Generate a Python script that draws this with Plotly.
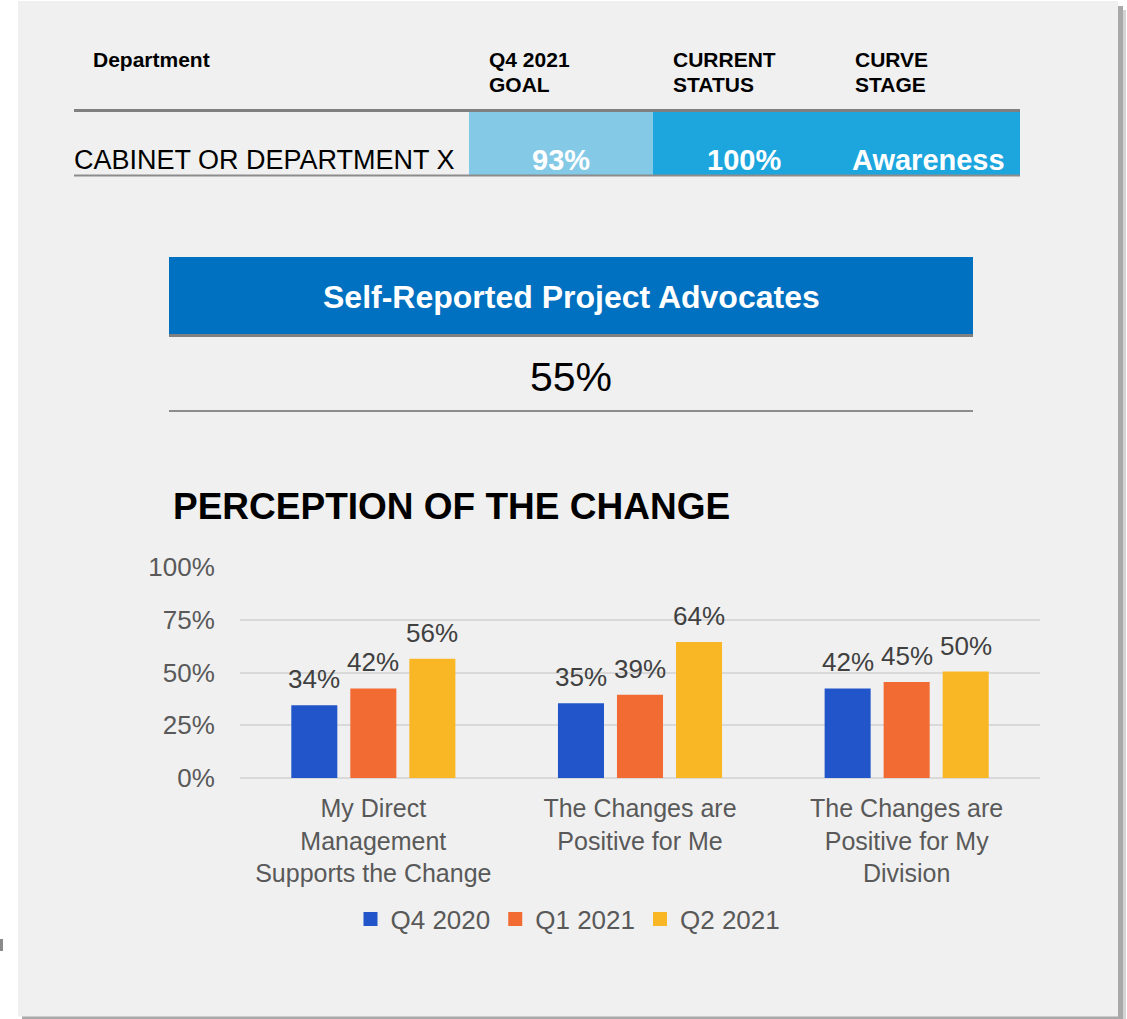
import plotly.graph_objects as go

# ---- data ----
categories = [
    "My Direct<br>Management<br>Supports the Change",
    "The Changes are<br>Positive for Me",
    "The Changes are<br>Positive for My<br>Division",
]
series_names = ["Q4 2020", "Q1 2021", "Q2 2021"]
q4_2020 = [0.34, 0.35, 0.42]
q1_2021 = [0.42, 0.39, 0.45]
q2_2021 = [0.56, 0.64, 0.50]
series_colors = ["#2155C9", "#F26B32", "#F9B725"]

y_ticks = [0, 0.25, 0.5, 0.75, 1.0]

table_headers = [["Department"], ["Q4 2021", "GOAL"], ["CURRENT", "STATUS"], ["CURVE", "STAGE"]]
table_row = ["CABINET OR DEPARTMENT X", "93%", "100%", "Awareness"]
advocates_label = "Self-Reported Project Advocates"
advocates_value = "55%"
chart_title = "PERCEPTION OF THE CHANGE"

W, H = 1127, 1019
FONT = "Liberation Sans, Arial, sans-serif"


def px(x):
    return x / W


def py(y):
    return 1 - y / H


fig = go.Figure()
for name, vals, col in zip(series_names, [q4_2020, q1_2021, q2_2021], series_colors):
    fig.add_trace(go.Bar(
        x=categories, y=vals, name=name,
        marker=dict(color=col, line=dict(width=2, color=col)),
    ))

shapes = []
# panel with drop shadow
shapes.append(dict(type="rect", xref="paper", yref="paper", layer="below",
                   x0=px(1118), x1=px(1123), y0=py(1019), y1=py(6),
                   fillcolor="#A9A9A9", line=dict(width=0)))
shapes.append(dict(type="rect", xref="paper", yref="paper", layer="below",
                   x0=px(1123), x1=px(1126), y0=py(1019), y1=py(10),
                   fillcolor="#D4D4D4", line=dict(width=0)))
shapes.append(dict(type="rect", xref="paper", yref="paper", layer="below",
                   x0=px(22), x1=px(1123), y0=py(1019), y1=py(1016),
                   fillcolor="#A9A9A9", line=dict(width=0)))
shapes.append(dict(type="rect", xref="paper", yref="paper", layer="below",
                   x0=px(18), x1=px(1118), y0=py(1016.5), y1=py(1),
                   fillcolor="#F0F0F0", line=dict(width=0)))
shapes.append(dict(type="rect", xref="paper", yref="paper", layer="below",
                   x0=px(0), x1=px(3), y0=py(951), y1=py(939),
                   fillcolor="#8A8A8A", line=dict(width=0)))

# status table cells
shapes.append(dict(type="rect", xref="paper", yref="paper", layer="below",
                   x0=px(469), x1=px(653), y0=py(175), y1=py(111),
                   fillcolor="#84C9E6", line=dict(width=0)))
shapes.append(dict(type="rect", xref="paper", yref="paper", layer="below",
                   x0=px(653), x1=px(1020), y0=py(175), y1=py(111),
                   fillcolor="#1DA6DE", line=dict(width=0)))
# table rules
shapes.append(dict(type="line", xref="paper", yref="paper",
                   x0=px(74), x1=px(1020), y0=py(110.5), y1=py(110.5),
                   line=dict(color="#808080", width=3)))
shapes.append(dict(type="line", xref="paper", yref="paper",
                   x0=px(74), x1=px(1020), y0=py(175.5), y1=py(175.5),
                   line=dict(color="#8C8C8C", width=2)))

# advocates banner
shapes.append(dict(type="rect", xref="paper", yref="paper", layer="below",
                   x0=px(169), x1=px(973), y0=py(334), y1=py(257),
                   fillcolor="#0070C0", line=dict(width=0)))
shapes.append(dict(type="line", xref="paper", yref="paper",
                   x0=px(169), x1=px(973), y0=py(335.5), y1=py(335.5),
                   line=dict(color="#808080", width=3)))
shapes.append(dict(type="line", xref="paper", yref="paper",
                   x0=px(169), x1=px(973), y0=py(411), y1=py(411),
                   line=dict(color="#8C8C8C", width=2)))

annotations = []
# table header, one annotation per text line
header_x = [91, 487, 671, 853]
header_line_y = [59, 84]
for lines, x in zip(table_headers, header_x):
    for txt, y in zip(lines, header_line_y):
        annotations.append(dict(text="<b>%s</b>" % txt, xref="paper", yref="paper",
                                x=px(x), y=py(y), xanchor="left", yanchor="middle",
                                align="left", showarrow=False,
                                font=dict(family=FONT, size=21, color="#000000")))
# table row
annotations.append(dict(text=table_row[0], xref="paper", yref="paper",
                        x=px(72), y=py(160), xanchor="left", yanchor="middle",
                        showarrow=False,
                        font=dict(family=FONT, size=27, color="#000000")))
for txt, x in zip(table_row[1:], [561, 744, 928]):
    annotations.append(dict(text="<b>%s</b>" % txt, xref="paper", yref="paper",
                            x=px(x), y=py(160), xanchor="center", yanchor="middle",
                            showarrow=False,
                            font=dict(family=FONT, size=29, color="#FFFFFF")))

annotations.append(dict(text="<b>%s</b>" % advocates_label, xref="paper", yref="paper",
                        x=px(571), y=py(297), xanchor="center", yanchor="middle",
                        showarrow=False,
                        font=dict(family=FONT, size=32, color="#FFFFFF")))
annotations.append(dict(text=advocates_value, xref="paper", yref="paper",
                        x=px(571), y=py(377), xanchor="center", yanchor="middle",
                        showarrow=False,
                        font=dict(family=FONT, size=41, color="#000000")))

annotations.append(dict(text="<b>%s</b>" % chart_title, xref="paper", yref="paper",
                        x=px(171), y=py(507), xanchor="left", yanchor="middle",
                        showarrow=False,
                        font=dict(family=FONT, size=37, color="#000000")))

# value labels above bars
for i, vals in enumerate([q4_2020, q1_2021, q2_2021]):
    for j, v in enumerate(vals):
        annotations.append(dict(
            text="%d%%" % round(v * 100), x=j, y=v, xref="x", yref="y",
            xshift=(i - 1) * 59, yshift=10,
            xanchor="center", yanchor="bottom", showarrow=False,
            font=dict(family=FONT, size=26, color="#404040")))

fig.update_layout(
    width=W, height=H,
    margin=dict(l=0, r=0, t=0, b=0, autoexpand=False),
    autosize=False,
    paper_bgcolor="#FFFFFF",
    plot_bgcolor="rgba(0,0,0,0)",
    barmode="group",
    bargap=0.336,
    bargroupgap=0.254,
    font=dict(family=FONT, size=24, color="#595959"),
    shapes=shapes,
    annotations=annotations,
    showlegend=True,
    legend=dict(orientation="h", x=px(568), y=py(919), xanchor="center",
                yanchor="middle", bgcolor="rgba(0,0,0,0)", itemwidth=30,
                font=dict(family=FONT, size=26, color="#595959"),
                itemclick=False, itemdoubleclick=False),
    xaxis=dict(domain=[px(240), px(1040)], showgrid=False, showline=False,
               zeroline=False, ticks="outside", ticklen=8, automargin=False,
               tickcolor="rgba(0,0,0,0)", tickangle=0,
               tickfont=dict(family=FONT, size=25, color="#595959"),
               fixedrange=True),
    yaxis=dict(domain=[py(778), py(567)], range=[0, 1], tickvals=y_ticks,
               tickformat=".0%", showgrid=True, gridcolor="#D9D9D9",
               gridwidth=2, zeroline=True, zerolinecolor="#D9D9D9",
               zerolinewidth=2, showline=False, ticks="outside", ticklen=19,
               tickcolor="rgba(0,0,0,0)", automargin=False,
               tickfont=dict(family=FONT, size=26, color="#595959"),
               fixedrange=True),
)

fig.write_html("out.html", config={"displayModeBar": False})
